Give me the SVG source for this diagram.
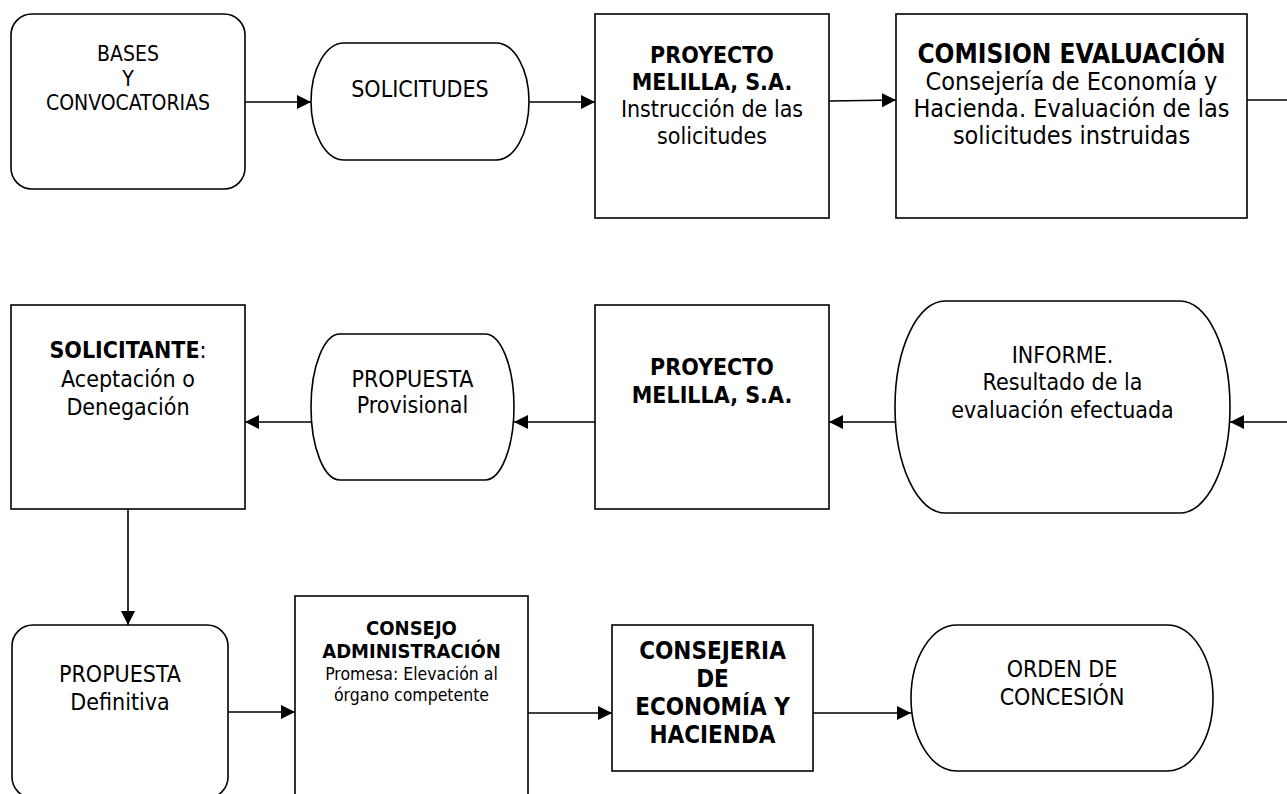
<svg xmlns="http://www.w3.org/2000/svg" width="1287" height="794" viewBox="0 0 1287 794">
<style>
.shape{fill:#fff;stroke:#000;stroke-width:1.6}
.conn{fill:none;stroke:#000;stroke-width:1.6}
text{font-family:"DejaVu Sans Condensed","DejaVu Sans",sans-serif;fill:#000;text-anchor:middle}
.t20{font-size:21px}
.t22{font-size:23px}
.t25{font-size:25px}
.b26{font-size:26px;font-weight:bold}
.b23{font-size:23px;font-weight:bold}
.b24{font-size:24px;font-weight:bold}
.t18{font-size:17.5px}
.b18{font-size:20px;font-weight:bold}
</style>
<defs>
<marker id="arr" markerUnits="userSpaceOnUse" markerWidth="15" markerHeight="15" refX="14" refY="7" orient="auto">
<path d="M0,0 L14,7 L0,14 z" fill="#000"/>
</marker>
</defs>
<rect width="1287" height="794" fill="#fff"/>
<g id="connectors">
<line class="conn" x1="245" y1="102" x2="311" y2="102" marker-end="url(#arr)"/>
<line class="conn" x1="529" y1="102" x2="595" y2="102" marker-end="url(#arr)"/>
<line class="conn" x1="829" y1="101" x2="896" y2="100" marker-end="url(#arr)"/>
<line class="conn" x1="1247" y1="100" x2="1290" y2="100"/>
<line class="conn" x1="1290" y1="422" x2="1230" y2="422" marker-end="url(#arr)"/>
<line class="conn" x1="895" y1="422" x2="829" y2="422" marker-end="url(#arr)"/>
<line class="conn" x1="595" y1="422" x2="514" y2="422" marker-end="url(#arr)"/>
<line class="conn" x1="311" y1="422" x2="245" y2="422" marker-end="url(#arr)"/>
<line class="conn" x1="128" y1="509" x2="128" y2="625" marker-end="url(#arr)"/>
<line class="conn" x1="228" y1="712" x2="295" y2="712" marker-end="url(#arr)"/>
<line class="conn" x1="528" y1="713" x2="612" y2="713" marker-end="url(#arr)"/>
<line class="conn" x1="813" y1="713" x2="911" y2="713" marker-end="url(#arr)"/>
</g>
<g id="bases">
<rect class="shape" x="11" y="14" width="234" height="175" rx="21" ry="21"/>
<text class="t20" x="128" y="61">BASES</text>
<text class="t20" x="128" y="86">Y</text>
<text class="t20" x="128" y="110">CONVOCATORIAS</text>
</g>
<g id="solicitudes">
<rect class="shape" x="311" y="43" width="218" height="117" rx="33" ry="58.5"/>
<text class="t22" x="420" y="97">SOLICITUDES</text>
</g>
<g id="proyecto1">
<rect class="shape" x="595" y="14" width="234" height="204"/>
<text class="b23" x="712" y="63">PROYECTO</text>
<text class="b23" x="712" y="90">MELILLA, S.A.</text>
<text class="t22" x="712" y="117">Instrucción de las</text>
<text class="t22" x="712" y="144">solicitudes</text>
</g>
<g id="comision">
<rect class="shape" x="896" y="14" width="351" height="204"/>
<text class="b26" x="1071.5" y="63">COMISION EVALUACIÓN</text>
<text class="t25" x="1071.5" y="90">Consejería de Economía y</text>
<text class="t25" x="1071.5" y="117">Hacienda. Evaluación de las</text>
<text class="t25" x="1071.5" y="144">solicitudes instruidas</text>
</g>
<g id="informe">
<rect class="shape" x="895" y="301" width="335" height="212" rx="50" ry="106"/>
<text class="t22" x="1062.5" y="363">INFORME.</text>
<text class="t22" x="1062.5" y="390">Resultado de la</text>
<text class="t22" x="1062.5" y="418">evaluación efectuada</text>
</g>
<g id="proyecto2">
<rect class="shape" x="595" y="305" width="234" height="204"/>
<text class="b23" x="712" y="375">PROYECTO</text>
<text class="b23" x="712" y="403">MELILLA, S.A.</text>
</g>
<g id="propuesta-provisional">
<rect class="shape" x="311" y="334" width="203" height="146" rx="29" ry="73"/>
<text class="t22" x="412.5" y="387">PROPUESTA</text>
<text class="t22" x="412.5" y="413">Provisional</text>
</g>
<g id="solicitante">
<rect class="shape" x="11" y="305" width="234" height="204"/>
<text class="t22" x="128" y="358"><tspan font-weight="bold">SOLICITANTE</tspan>:</text>
<text class="t22" x="128" y="387">Aceptación o</text>
<text class="t22" x="128" y="415">Denegación</text>
</g>
<g id="propuesta-definitiva">
<rect class="shape" x="12" y="625" width="216" height="173" rx="21" ry="21"/>
<text class="t22" x="120" y="682">PROPUESTA</text>
<text class="t22" x="120" y="710">Definitiva</text>
</g>
<g id="consejo">
<rect class="shape" x="295" y="596" width="233" height="210"/>
<text class="b18" x="411.5" y="635">CONSEJO</text>
<text class="b18" x="411.5" y="658">ADMINISTRACIÓN</text>
<text class="t18" x="411.5" y="680">Promesa: Elevación al</text>
<text class="t18" x="411.5" y="701">órgano competente</text>
</g>
<g id="consejeria">
<rect class="shape" x="612" y="625" width="201" height="146"/>
<text class="b24" x="712.5" y="659">CONSEJERIA</text>
<text class="b24" x="712.5" y="687">DE</text>
<text class="b24" x="712.5" y="715">ECONOMÍA Y</text>
<text class="b24" x="712.5" y="743">HACIENDA</text>
</g>
<g id="orden">
<rect class="shape" x="911" y="625" width="302" height="146" rx="46" ry="73"/>
<text class="t22" x="1062" y="677">ORDEN DE</text>
<text class="t22" x="1062" y="705">CONCESIÓN</text>
</g>
</svg>
